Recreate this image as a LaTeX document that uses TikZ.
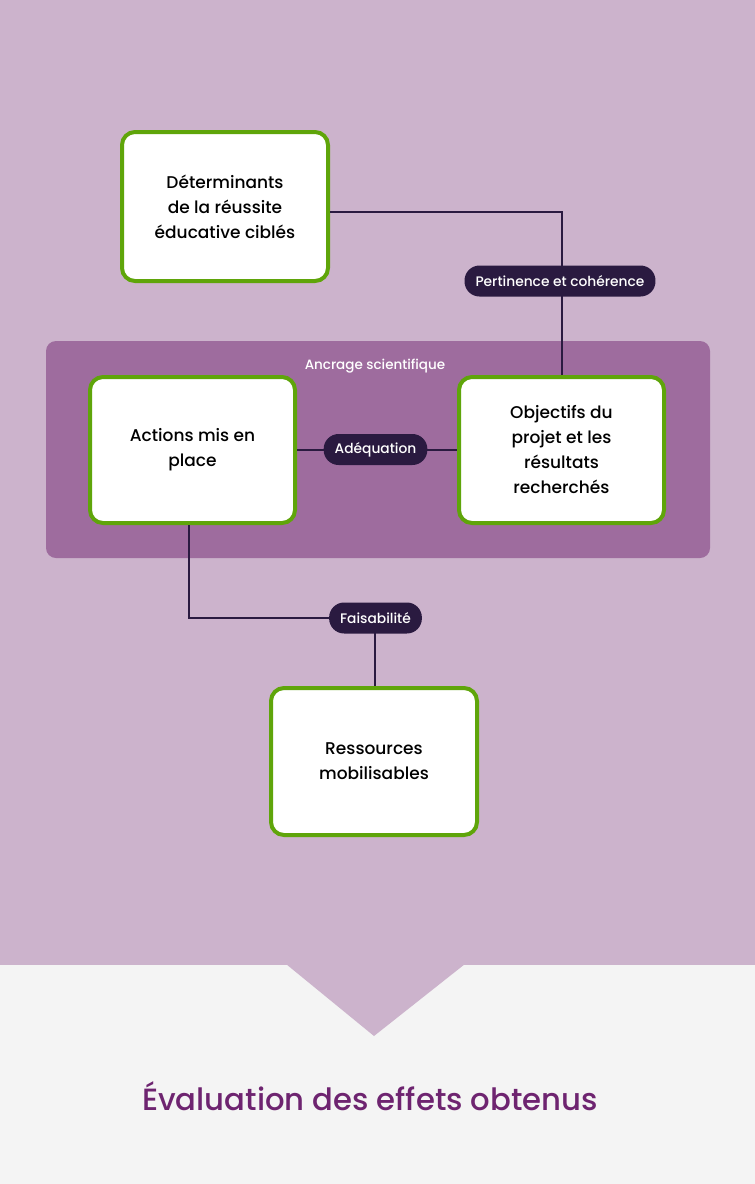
\documentclass[tikz,border=0pt]{standalone}
\usepackage{fontspec}
\setmainfont{Poppins Medium}
\usetikzlibrary{positioning}
\definecolor{bgtop}{HTML}{CCB3CC}
\definecolor{bgbot}{HTML}{F4F4F4}
\definecolor{grp}{HTML}{9E6C9E}
\definecolor{grn}{HTML}{5FA50A}
\definecolor{dark}{HTML}{2A1A40}
\definecolor{ttl}{HTML}{6E2470}
\tikzset{
  box/.style={draw=grn, line width=4pt, fill=white, rounded corners=13pt, align=center,
    font=\fontsize{17}{25}\selectfont, text=black, inner sep=0pt},
  pill/.style={fill=dark, text=white, rounded corners=15pt, minimum height=31pt, inner xsep=11pt,
    font=\fontsize{13.8}{15}\selectfont},
  conn/.style={draw=dark, line width=2.3pt}
}
\begin{document}
\begin{tikzpicture}[x=1pt,y=-1pt]
\useasboundingbox (0,0) rectangle (755,1184);
\fill[bgbot] (0,0) rectangle (755,1184);
\fill[bgtop] (0,0) rectangle (755,965);
\fill[bgtop] (286,964) -- (465,964) -- (374,1036) -- cycle;
\fill[grp, rounded corners=10pt] (46,341) rectangle (710,558);
\node[text=white, font=\fontsize{13.5}{15}\selectfont] (anc) at (375,366) {Ancrage scientifique};

\node[box, minimum width=206pt, minimum height=149pt] (det) at (225,206.5) {Déterminants\\de la réussite\\éducative ciblés};
\node[box, minimum width=205pt, minimum height=146pt] (act) at (192.5,450) {Actions mis en\\place};
\node[box, minimum width=205pt, minimum height=146pt] (obj) at (561.5,450) {Objectifs du\\projet et les\\résultats\\recherchés};
\node[box, minimum width=206pt, minimum height=147pt] (res) at (374,761.5) {Ressources\\mobilisables};

\coordinate (c1) at (562,212);
\coordinate (c2) at (189,618);
\coordinate (c3) at (375,618);
\draw[conn] (det.east |- c1) -- (c1) -- (c1 |- obj.north);
\draw[conn] (act.east) -- (obj.west);
\draw[conn] (c2 |- act.south) -- (c2) -- (c3) -- (c3 |- res.north);
\node[pill] (pc) at (560,281) {Pertinence et cohérence};
\node[pill] (ad) at (375.5,449.5) {Adéquation};
\node[pill] (fa) at (375.5,618) {Faisabilité};

\node[text=ttl, font=\fontsize{30.7}{34}\selectfont, anchor=base] (title) at (370,1110) {Évaluation des effets obtenus};
\end{tikzpicture}
\end{document}
